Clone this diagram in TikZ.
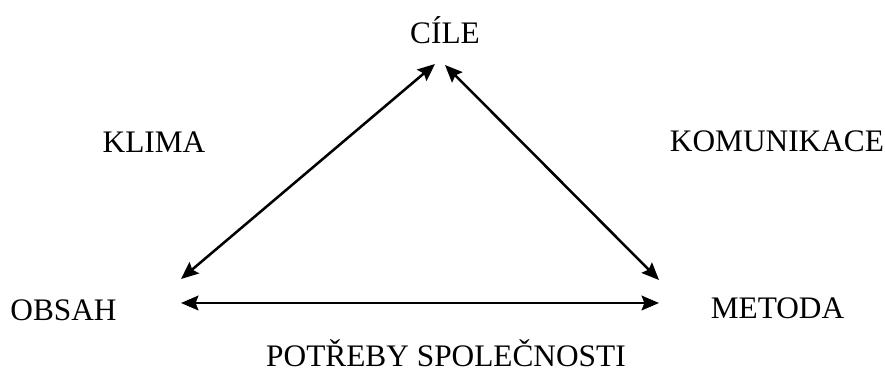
\documentclass[tikz,border=0pt]{standalone}
\usepackage{fontspec}
\setmainfont{Liberation Serif}
\usetikzlibrary{arrows.meta}

\begin{document}
\begin{tikzpicture}[
  x=0.75pt, y=-0.75pt,
  word/.style={anchor=base, inner sep=0pt, font=\fontsize{23.5}{28}\selectfont},
  dbl/.style={{Stealth[length=13pt,width=11pt,inset=2pt]}-{Stealth[length=13pt,width=11pt,inset=2pt]}, line width=1.9pt}
]
  \useasboundingbox (0,0) rectangle (885,374);

  \node[word] (cile) at (445,44) {CÍLE};
  \node[word] (obsah) at (63.5,320) {OBSAH};
  \node[word] (metoda) at (777.5,318) {METODA};
  \node[word] (klima) at (154,153) {KLIMA};
  \node[word] (komunikace) at (777,152) {KOMUNIKACE};
  \node[word] (potreby) at (446,366) {POTŘEBY SPOLEČNOSTI};

  % arrow tips
  \coordinate (cile-l) at (435,64);
  \coordinate (cile-r) at (445,65);
  \coordinate (obsah-u) at (181,279);
  \coordinate (obsah-r) at (181,303);
  \coordinate (metoda-u) at (659,280);
  \coordinate (metoda-l) at (659,303);

  \draw[dbl] (obsah-u) -- (cile-l);
  \draw[dbl] (cile-r) -- (metoda-u);
  \draw[dbl] (obsah-r) -- (metoda-l);
\end{tikzpicture}
\end{document}
